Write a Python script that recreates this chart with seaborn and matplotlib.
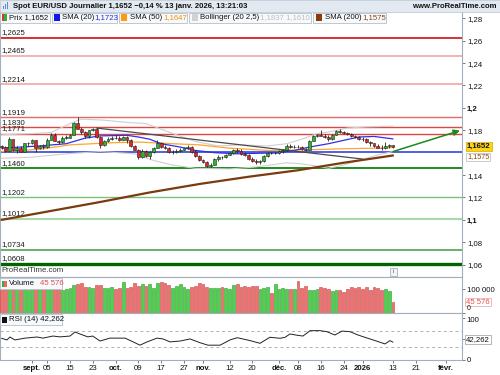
import matplotlib
matplotlib.use("Agg")
import matplotlib.pyplot as plt
import seaborn as sns
from matplotlib.patches import Rectangle

sns.set_theme(style="white")
plt.rcParams["font.family"] = ["Liberation Sans", "DejaVu Sans"]
FS = 5.6

# ---------------- data ----------------
opens = [1.1660, 1.1650, 1.1612, 1.1718, 1.1622, 1.1641, 1.1610, 1.1683,
         1.1686, 1.1712, 1.1645, 1.1660, 1.1648, 1.1717, 1.1762, 1.1708,
         1.1697, 1.1732, 1.1735, 1.1762, 1.1866, 1.1815, 1.1788, 1.1745,
         1.1800, 1.1812, 1.1738, 1.1668, 1.1702, 1.1726, 1.1735, 1.1727,
         1.1717, 1.1740, 1.1712, 1.1658, 1.1628, 1.1563, 1.1617, 1.1569,
         1.1607, 1.1646, 1.1688, 1.1653, 1.1643, 1.1604, 1.1610, 1.1618,
         1.1626, 1.1643, 1.1652, 1.1605, 1.1568, 1.1535, 1.1520, 1.1485,
         1.1493, 1.1545, 1.1565, 1.1557, 1.1583, 1.1596, 1.1625, 1.1618,
         1.1590, 1.1582, 1.1542, 1.1530, 1.1515, 1.1525, 1.1568, 1.1598,
         1.1594, 1.1600, 1.1612, 1.1622, 1.1662, 1.1648, 1.1655, 1.1650,
         1.1630, 1.1628, 1.1705, 1.1750, 1.1758, 1.1752, 1.1742, 1.1718,
         1.1762, 1.1795, 1.1782, 1.1772, 1.1766, 1.1748, 1.1742, 1.1722,
         1.1718, 1.1692, 1.1682, 1.1662, 1.1646, 1.1642, 1.1658, 1.1668]
highs = [1.1672, 1.1660, 1.1742, 1.1722, 1.1660, 1.1660, 1.1690, 1.1695,
         1.1720, 1.1715, 1.1670, 1.1675, 1.1730, 1.1780, 1.1780, 1.1715,
         1.1745, 1.1755, 1.1770, 1.1878, 1.1918, 1.1830, 1.1795, 1.1805,
         1.1820, 1.1820, 1.1745, 1.1710, 1.1740, 1.1750, 1.1760, 1.1745,
         1.1750, 1.1745, 1.1720, 1.1670, 1.1635, 1.1630, 1.1625, 1.1615,
         1.1650, 1.1710, 1.1695, 1.1670, 1.1650, 1.1625, 1.1630, 1.1640,
         1.1655, 1.1668, 1.1660, 1.1620, 1.1580, 1.1545, 1.1528, 1.1505,
         1.1550, 1.1575, 1.1570, 1.1590, 1.1605, 1.1635, 1.1640, 1.1630,
         1.1605, 1.1590, 1.1560, 1.1545, 1.1535, 1.1575, 1.1605, 1.1610,
         1.1608, 1.1625, 1.1630, 1.1675, 1.1680, 1.1668, 1.1670, 1.1660,
         1.1645, 1.1712, 1.1762, 1.1768, 1.1802, 1.1768, 1.1758, 1.1770,
         1.1805, 1.1808, 1.1792, 1.1785, 1.1775, 1.1760, 1.1750, 1.1740,
         1.1728, 1.1700, 1.1690, 1.1675, 1.1665, 1.1698, 1.1680, 1.1672]
lows = [1.1630, 1.1608, 1.1605, 1.1615, 1.1600, 1.1605, 1.1605, 1.1660,
        1.1680, 1.1610, 1.1635, 1.1630, 1.1640, 1.1712, 1.1700, 1.1680,
        1.1690, 1.1725, 1.1730, 1.1755, 1.1810, 1.1770, 1.1735, 1.1735,
        1.1790, 1.1730, 1.1645, 1.1660, 1.1695, 1.1710, 1.1718, 1.1700,
        1.1710, 1.1690, 1.1650, 1.1620, 1.1545, 1.1555, 1.1560, 1.1545,
        1.1600, 1.1640, 1.1640, 1.1635, 1.1596, 1.1590, 1.1600, 1.1605,
        1.1620, 1.1635, 1.1595, 1.1560, 1.1525, 1.1510, 1.1470, 1.1468,
        1.1488, 1.1530, 1.1545, 1.1550, 1.1575, 1.1590, 1.1600, 1.1580,
        1.1570, 1.1535, 1.1515, 1.1500, 1.1495, 1.1520, 1.1562, 1.1585,
        1.1585, 1.1590, 1.1595, 1.1618, 1.1640, 1.1640, 1.1645, 1.1625,
        1.1615, 1.1622, 1.1700, 1.1738, 1.1745, 1.1735, 1.1708, 1.1712,
        1.1755, 1.1772, 1.1765, 1.1755, 1.1738, 1.1735, 1.1712, 1.1700,
        1.1685, 1.1662, 1.1655, 1.1640, 1.1620, 1.1632, 1.1640, 1.1645]
closes = [1.1650, 1.1612, 1.1718, 1.1622, 1.1641, 1.1610, 1.1683, 1.1686,
          1.1712, 1.1645, 1.1660, 1.1648, 1.1717, 1.1762, 1.1708, 1.1697,
          1.1732, 1.1735, 1.1762, 1.1866, 1.1815, 1.1788, 1.1745, 1.1800,
          1.1812, 1.1738, 1.1668, 1.1702, 1.1726, 1.1735, 1.1727, 1.1717,
          1.1740, 1.1712, 1.1658, 1.1628, 1.1563, 1.1617, 1.1569, 1.1607,
          1.1646, 1.1688, 1.1653, 1.1643, 1.1604, 1.1610, 1.1618, 1.1626,
          1.1643, 1.1652, 1.1605, 1.1568, 1.1535, 1.1520, 1.1485, 1.1493,
          1.1545, 1.1565, 1.1557, 1.1583, 1.1596, 1.1625, 1.1618, 1.1590,
          1.1582, 1.1542, 1.1530, 1.1515, 1.1525, 1.1568, 1.1598, 1.1594,
          1.1600, 1.1612, 1.1622, 1.1662, 1.1648, 1.1655, 1.1650, 1.1630,
          1.1628, 1.1705, 1.1750, 1.1758, 1.1752, 1.1742, 1.1718, 1.1762,
          1.1795, 1.1782, 1.1772, 1.1766, 1.1748, 1.1742, 1.1720, 1.1718,
          1.1692, 1.1682, 1.1662, 1.1646, 1.1642, 1.1662, 1.1666, 1.1652]
volumes = [98000, 102000, 112000, 105000, 100000, 97000, 103000, 95000,
           104000, 118000, 99000, 101000, 112000, 108000, 110000, 100000,
           95000, 99000, 104000, 117000, 122000, 124000, 110000, 108000,
           106000, 118000, 117000, 104000, 106000, 108000, 100000, 106000,
           129000, 103000, 110000, 127000, 112000, 120000, 114000, 121000,
           106000, 127000, 130000, 123000, 118000, 106000, 112000, 119000,
           110000, 102000, 107000, 114000, 123000, 121000, 108000, 105000,
           104000, 105000, 107000, 106000, 100000, 115000, 119000, 110000,
           112000, 107000, 113000, 111000, 100000, 104000, 108000, 84000,
           121000, 102000, 104000, 99000, 100000, 101000, 133000, 105000,
           111000, 95000, 97000, 101000, 110000, 104000, 101000, 93000,
           94000, 97000, 86000, 100000, 107000, 104000, 110000, 101000,
           109000, 95000, 107000, 105000, 96000, 98000, 92000, 45576]

# indicator lines (candle index, value)
sma20_x = [0, 10, 17, 22, 26, 33, 36, 39, 42, 47, 51, 56, 62, 68, 73, 77, 81, 86, 90, 94, 98, 103]
sma20_y = [1.1640, 1.1660, 1.1680, 1.1730, 1.1750, 1.1755, 1.1740, 1.1720, 1.1680, 1.1650,
           1.1620, 1.1600, 1.1590, 1.1595, 1.1600, 1.1620, 1.1650, 1.1680, 1.1710, 1.1740, 1.1745, 1.1723]
sma50_x = [0, 10, 18, 30, 36, 45, 52, 60, 70, 80, 90, 98, 103]
sma50_y = [1.1610, 1.1630, 1.1670, 1.1690, 1.1695, 1.1680, 1.1670, 1.1640, 1.1620,
           1.1625, 1.1635, 1.1640, 1.1647]
sma200_x = [0, 13, 26, 39, 52, 65, 78, 90, 103]
sma200_y = [1.1000, 1.1080, 1.1160, 1.1245, 1.1320, 1.1385, 1.1443, 1.1510, 1.1575]
bb_up_x = [0, 8, 13, 18, 21, 27, 33, 38, 42, 46, 51, 57, 63, 70, 75, 79, 83, 87, 91, 96, 103]
bb_up_y = [1.1760, 1.1770, 1.1780, 1.1860, 1.1900, 1.1890, 1.1870, 1.1860, 1.1810, 1.1760,
           1.1700, 1.1660, 1.1670, 1.1660, 1.1680, 1.1720, 1.1770, 1.1790, 1.1820, 1.1830, 1.1837]
bb_lo_x = [0, 8, 17, 26, 35, 40, 45, 51, 60, 66, 71, 75, 79, 83, 86, 90, 94, 99, 103]
bb_lo_y = [1.1550, 1.1560, 1.1590, 1.1610, 1.1590, 1.1530, 1.1490, 1.1460, 1.1455, 1.1470,
           1.1490, 1.1510, 1.1500, 1.1480, 1.1460, 1.1490, 1.1530, 1.1580, 1.1610]
trend_x = [25, 95]
trend_y = [1.1820, 1.1543]
arrow_from = (103, 1.1610)
arrow_to = (120.6, 1.1797)
blue_level = 1.1610

rsi_x = [0, 1.4, 2.2, 3.5, 6.2, 9.3, 10.9, 13.5, 15.4, 18, 19.3, 20.6, 22.7, 24, 25.9, 28.5,
         32.5, 34.6, 36.4, 38.3, 40.9, 42.5, 44.3, 47, 49.6, 52.2, 54.3, 57.5, 60.1, 62, 63.5,
         65.4, 68, 70.6, 73.3, 74.6, 75.9, 77.7, 79.3, 81.2, 83.8, 85.6, 87.7, 89.6, 91.7,
         93.8, 95.6, 98.3, 100.9, 102.2, 103]
rsi_y = [51.6, 47.6, 54.7, 47.6, 52, 54.7, 52, 57, 55, 57, 66.7, 62, 55, 57, 45, 52,
         52, 43, 35, 43, 52, 50, 43, 45, 50, 41, 35, 35, 47.6, 53, 50,
         46, 39.5, 54, 51.6, 54, 62, 59, 57, 70, 70, 67.5, 59.5, 69, 67.5,
         59.5, 54, 46, 38, 46, 42.262]

levels = [1.2625, 1.2465, 1.2214, 1.1919, 1.1830, 1.1771, 1.1460, 1.1202, 1.1012, 1.0734, 1.0608]
level_labels = ["1,2625", "1,2465", "1,2214", "1,1919", "1,1830", "1,1771",
                "1,1460", "1,1202", "1,1012", "1,0734", "1,0608"]
level_colors = ["#cc1111", "#f4a6a6", "#f4a6a6", "#e46a6a", "#e04444", "#e04444",
                "#1f8c1f", "#7cc27c", "#a9d9a9", "#3a9e3a", "#006400"]
level_widths = [1.2, 1.2, 1.2, 1.0, 1.0, 1.0, 1.4, 1.0, 1.5, 1.1, 2.4]

# 1,16 sits under the yellow price box in the reference
yticks = [1.06, 1.08, 1.10, 1.12, 1.14, 1.18, 1.20, 1.22, 1.24, 1.26, 1.28]
ytick_labels = ["1,06", "1,08", "1,1", "1,12", "1,14", "1,18", "1,2", "1,22", "1,24", "1,26", "1,28"]
xtick_pos = [8, 12, 18, 24, 30, 36, 42, 48, 53, 60, 66, 73, 78, 84, 90, 95, 103, 109, 117]
xtick_labels = ["sept.", "05", "15", "23", "oct.", "09", "17", "27", "nov.", "12", "20",
                "déc.", "08", "16", "24", "2026", "13", "21", "févr."]

# ---------------- figure ----------------
W, H = 500, 375
fig = plt.figure(figsize=(5, 3.75), dpi=100)
fig.patch.set_facecolor("white")


def fx(x):
    return x / W


def fy(y):
    return 1 - y / H


def axes_rect(y0, y1):
    return [0, fy(y1), 462 / W, (y1 - y0) / H]


ax = fig.add_axes(axes_rect(12, 277))
axv = fig.add_axes(axes_rect(277, 313), sharex=ax)
axr = fig.add_axes(axes_rect(313, 360), sharex=ax)

XL = (-0.42, 121.16)
spine_c = "#a3afba"
for a in (ax, axv, axr):
    a.set_facecolor("white")
    for s in a.spines.values():
        s.set_color(spine_c)
        s.set_linewidth(0.8)
    a.yaxis.tick_right()
    a.tick_params(axis="y", direction="out", length=2, width=0.6, color="#666666",
                  pad=1.5, labelsize=FS, labelcolor="#111111", left=False, right=True)
    a.tick_params(axis="x", bottom=False, labelbottom=False)
    a.grid(False)

# ---- main price panel ----
ax.set_xlim(*XL)
ax.set_ylim(1.0490, 1.2856)
for lv, c, lw, lab in zip(levels, level_colors, level_widths, level_labels):
    ax.axhline(lv, color=c, lw=lw, zorder=1)
    ax.text(0.004, lv + 0.0012, lab, transform=ax.get_yaxis_transform(), fontsize=FS,
            color="#1a1a1a", va="bottom", ha="left", zorder=2)
ax.axhline(blue_level, color="#3344dd", lw=1.2, zorder=1)

sns.lineplot(x=bb_up_x, y=bb_up_y, ax=ax, color="#cfcfcf", lw=0.8, sort=False, estimator=None, zorder=2)
sns.lineplot(x=bb_lo_x, y=bb_lo_y, ax=ax, color="#cfcfcf", lw=0.8, sort=False, estimator=None, zorder=2)
sns.lineplot(x=sma50_x, y=sma50_y, ax=ax, color="#ffa530", lw=0.9, sort=False, estimator=None, zorder=3)
sns.lineplot(x=sma20_x, y=sma20_y, ax=ax, color="#3030e6", lw=0.9, sort=False, estimator=None, zorder=3)
sns.lineplot(x=trend_x, y=trend_y, ax=ax, color="#4a4a4a", lw=0.9, sort=False, estimator=None, zorder=3)
sns.lineplot(x=sma200_x, y=sma200_y, ax=ax, color="#7b3a10", lw=1.6, sort=False, estimator=None, zorder=3)

idx = list(range(len(closes)))
up = [c >= o for o, c in zip(opens, closes)]
body_col = ["#2cb52c" if u else "#e02424" for u in up]
ax.vlines(idx, lows, highs, color="#222222", lw=0.6, zorder=5)
body_h = [max(abs(c - o), 0.0004) for o, c in zip(opens, closes)]
body_b = [min(o, c) for o, c in zip(opens, closes)]
ax.bar(idx, body_h, bottom=body_b, width=0.7, color=body_col, edgecolor="#222222",
       linewidth=0.4, zorder=6)

ax.annotate("", xy=arrow_to, xytext=arrow_from,
            arrowprops=dict(arrowstyle="-|>", color="#1a8a1a", lw=1.1, mutation_scale=9,
                            shrinkA=0, shrinkB=0), zorder=7)

ax.set_yticks(yticks)
ax.set_yticklabels(ytick_labels)
for t in ax.get_yticklabels():
    if t.get_text() in ("1,2", "1,1"):
        t.set_fontweight("bold")
ax.spines["top"].set_visible(False)
ax.text(0.003, 0.012, "ProRealTime.com", transform=ax.transAxes, fontsize=FS,
        color="#333333", va="bottom", ha="left")

# ---- volume panel ----
vol_col = ["#4fd04f" if u else "#ee7272" for u in up]
vol_edge = ["#2c9a2c" if u else "#c84444" for u in up]
axv.bar(idx, volumes, width=0.72, color=vol_col, edgecolor=vol_edge, linewidth=0.4, zorder=3)
axv.set_ylim(0, 150000)
axv.set_yticks([0, 100000])
axv.set_yticklabels(["", "100 000"])

# ---- RSI panel ----
axr.set_ylim(-0.7, 112.5)
axr.axhline(70, color="#b0b0b0", lw=0.7, ls=(0, (3, 3)))
axr.axhline(30, color="#b0b0b0", lw=0.7, ls=(0, (3, 3)))
sns.lineplot(x=rsi_x, y=rsi_y, ax=axr, color="#222222", lw=0.7, sort=False, estimator=None, zorder=3)
axr.set_yticks([0, 50, 100])
axr.set_yticklabels(["0", "", ""])
axr.set_xticks(xtick_pos)
axr.set_xticklabels(xtick_labels)
axr.tick_params(axis="x", bottom=True, labelbottom=True, direction="out", length=2,
                width=0.6, color="#666666", labelsize=FS, pad=1.5, labelcolor="#111111")
for t in axr.get_xticklabels():
    if not t.get_text().isdigit() or t.get_text() == "2026":
        t.set_fontweight("bold")
for a in (ax, axv, axr):
    a.set_xlabel("")
    a.set_ylabel("")
ax.set_xlim(*XL)


# ---------------- overlays (figure pixel coordinates) ----------------
def rect(x0, y0, x1, y1, fc, ec="none", lw=0.6, z=10):
    fig.add_artist(Rectangle((fx(x0), fy(y1)), (x1 - x0) / W, (y1 - y0) / H,
                             transform=fig.transFigure, facecolor=fc, edgecolor=ec,
                             linewidth=lw, zorder=z))


def ftext(x, y, s, color="#111111", weight="normal", ha="left", size=FS, z=12, bbox=None):
    fig.text(fx(x), fy(y), s, color=color, fontweight=weight, ha=ha, va="center",
             fontsize=size, zorder=z, bbox=bbox)


# title bar
rect(0, 0, 500, 11.5, "#e2e9f0", ec="#b8c4ce", lw=0.5)
for k, hgt in enumerate([3, 5, 7]):
    rect(2.5 + k * 2.2, 9 - hgt, 3.8 + k * 2.2, 9, "#5b8fc9", z=11)
ftext(13, 6, "Spot EUR/USD Journalier 1,1652 \u22120,14 % 13 janv. 2026, 13:21:03", weight="bold")
ftext(497, 6, "www.ProRealTime.com", weight="bold", ha="right")

# legend row
legend_boxes = [(0, 50), (52, 117), (119, 187), (189, 311), (313, 386)]
for x0, x1 in legend_boxes:
    rect(x0, 12.5, x1, 22.5, "#f7f9fb", ec="#b4c0cc", lw=0.6)
rect(1.5, 14.5, 4, 20.5, "#dd3333", z=11)
rect(4, 14.5, 6.5, 20.5, "#33b033", z=11)
ftext(9, 17.6, "Prix 1,1652")
rect(54, 14.5, 60, 20.5, "#1414ee", z=11)
ftext(62, 17.6, "SMA (20)")
ftext(94, 17.6, "1,1723", color="#2a2ae0")
rect(121, 14.5, 127, 20.5, "#ff9a10", z=11)
ftext(130, 17.6, "SMA (50)")
ftext(163, 17.6, "1,1647", color="#f09010")
rect(192, 14.5, 198, 20.5, "#d2d2d2", z=11)
ftext(200, 17.6, "Bollinger (20 2,5)")
ftext(260, 17.6, "1,1837 1,1610", color="#bdbdbd")
rect(316, 14.5, 322, 20.5, "#8b3c0c", z=11)
ftext(325, 17.6, "SMA (200)")
ftext(362, 17.6, "1,1575", color="#8b4513")

# right-side value boxes
ftext(467, 146.5, "1,1652", weight="bold",
      bbox=dict(boxstyle="square,pad=0.15", fc="#ffd21a", ec="#d9a900", lw=0.5))
ftext(467, 157.0, "1,1575", color="#8b4513", size=5.2,
      bbox=dict(boxstyle="square,pad=0.08", fc="white", ec="#b8b8b8", lw=0.5))
ftext(466, 302, "45 576", color="#e05050",
      bbox=dict(boxstyle="square,pad=0.12", fc="white", ec="#e8a0a0", lw=0.5))
ftext(466, 339.5, "42,262", color="#111111",
      bbox=dict(boxstyle="square,pad=0.12", fc="white", ec="#999999", lw=0.5))
# bottom label of the volume scale and top label of the RSI scale
ftext(466.5, 309.0, "0", size=5.0)
ftext(466.5, 320.0, "100")

# small info icon
rect(389.5, 268, 396.5, 275.5, "#f2f4f6", ec="#9aa4ae", lw=0.5, z=11)
ftext(393, 271.8, "i", ha="center", size=4.5, color="#555555")

# volume label
rect(0, 278, 62, 288.5, "#f7f9fb", ec="#b4c0cc", lw=0.6)
rect(1.5, 280.5, 4, 286.5, "#33b033", z=11)
rect(4, 280.5, 6.5, 286.5, "#ee6666", z=11)
ftext(9, 283.6, "Volume")
ftext(40, 283.6, "45 576", color="#e05050")

# RSI label
rect(0, 314, 62, 324.5, "#f7f9fb", ec="#b4c0cc", lw=0.6)
rect(1.5, 316.5, 6.5, 322.5, "#111111", z=11)
ftext(9, 319.6, "RSI (14) 42,262")

fig.savefig("out.png", dpi=100)
